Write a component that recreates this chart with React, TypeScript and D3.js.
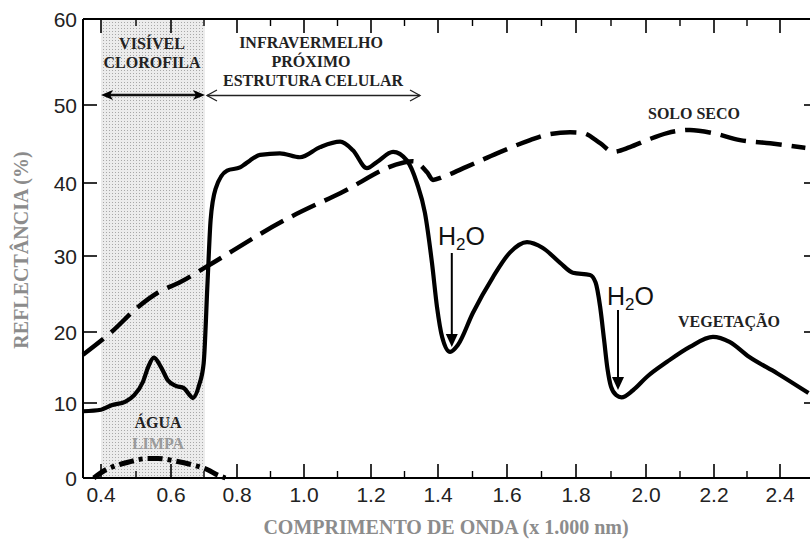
import React from 'react';
import * as d3 from 'd3';

// Reflectance spectra (wavelength in µm x 1000 nm, reflectance %)
const vegetacao: [number, number][] = [
  [0.35, 8.9], [0.40, 9.1], [0.43, 9.7], [0.47, 10.2], [0.495, 11.1], [0.52, 13.0],
  [0.535, 15.1], [0.551, 16.4], [0.571, 15.1], [0.591, 13.2], [0.615, 12.4], [0.639, 12.1],
  [0.655, 11.2], [0.666, 10.7], [0.685, 12.5], [0.699, 15.6], [0.711, 26.8], [0.72, 34.9],
  [0.735, 39.2], [0.77, 41.6], [0.809, 42.0], [0.82, 42.3], [0.839, 42.9], [0.869, 43.6],
  [0.928, 43.8], [0.988, 43.3], [1.048, 44.6], [1.108, 45.3], [1.146, 44.2], [1.188, 41.9],
  [1.218, 42.7], [1.266, 44.0], [1.307, 42.9], [1.337, 40.0], [1.361, 35.9], [1.382, 29.1],
  [1.397, 23.3], [1.412, 19.3], [1.435, 17.2], [1.458, 18.2], [1.501, 22.5], [1.559, 27.2],
  [1.609, 30.5], [1.658, 31.9], [1.704, 31.1], [1.754, 29.1], [1.791, 27.8], [1.84, 27.5],
  [1.856, 26.5], [1.869, 23.3], [1.88, 19.0], [1.89, 14.8], [1.90, 12.3], [1.915, 11.1],
  [1.93, 10.8], [1.963, 11.8], [2.003, 13.7], [2.062, 15.8], [2.129, 17.9], [2.197, 19.3],
  [2.247, 18.6], [2.306, 16.5], [2.391, 14.2], [2.49, 11.4],
];

const soloSeco: [number, number][] = [
  [0.35, 16.8], [0.43, 20.0], [0.506, 23.3], [0.563, 25.2], [0.63, 26.6], [0.70, 28.4],
  [0.958, 35.3], [1.108, 38.6], [1.295, 42.6], [1.325, 42.8], [1.367, 41.4], [1.385, 40.4],
  [1.415, 40.8], [1.484, 42.1], [1.571, 43.8], [1.667, 45.5], [1.716, 46.2], [1.783, 46.5],
  [1.82, 46.4], [1.869, 45.1], [1.906, 44.0], [1.954, 44.6], [2.003, 45.5], [2.062, 46.4],
  [2.129, 46.8], [2.197, 46.4], [2.279, 45.5], [2.37, 45.1], [2.48, 44.5],
];

const aguaLimpa: [number, number][] = [
  [0.38, 0], [0.41, 1.0], [0.44, 1.6], [0.477, 2.1], [0.534, 2.6], [0.563, 2.6],
  [0.609, 2.3], [0.669, 1.7], [0.711, 1.1], [0.741, 0.4], [0.765, 0],
];

const xMajorTicks = [0.4, 0.6, 0.8, 1.0, 1.2, 1.4, 1.6, 1.8, 2.0, 2.2, 2.4];
const xMinorTicks = [0.5, 0.7, 0.9, 1.1, 1.3, 1.5, 1.7, 1.9, 2.1, 2.3];
const xTickLabels = ['0.4', '0.6', '0.8', '1.0', '1.2', '1.4', '1.6', '1.8', '2.0', '2.2', '2.4'];
const yTicks = [0, 10, 20, 30, 40, 50, 60];
const yTickLabels = ['0', '10', '20', '30', '40', '50', '60'];

const W = 810;
const H = 545;

export default function App() {
  // scales calibrated to the (slightly non-uniform) printed axes
  const x = d3
    .scaleLinear()
    .domain([0.35, 0.4, 0.6, 0.8, 1.0, 1.2, 1.4, 1.6, 1.8, 2.0, 2.2, 2.4, 2.52])
    .range([83, 101, 171, 237, 304, 371, 438, 507, 576, 646, 714, 780, 818]);
  const y = d3
    .scaleLinear()
    .domain([0, 10, 20, 30, 40, 50, 60])
    .range([478, 403, 332, 256, 183, 105, 19]);

  const line = d3
    .line<[number, number]>()
    .x((d) => x(d[0]))
    .y((d) => y(d[1]))
    .curve(d3.curveMonotoneX);

  const left = x(0.35);
  const right = x(2.52);
  const top = y(60);
  const bottom = y(0);
  const serif = '"Liberation Serif", "Times New Roman", serif';
  const sans = '"Liberation Sans", Arial, sans-serif';

  const arrowDown = (cx: number, y0: number, y1: number) => (
    <g>
      <line x1={cx} x2={cx} y1={y0} y2={y1 - 10} stroke="#000" strokeWidth={2} />
      <path d={`M${cx - 6},${y1 - 13} L${cx + 6},${y1 - 13} L${cx},${y1} Z`} fill="#000" />
    </g>
  );

  const shadeX0 = x(0.4);
  const shadeX1 = x(0.703);
  const arrowY = 95;

  return (
    <svg
      width={W}
      height={H}
      style={{ position: 'absolute', left: 0, top: 0, background: '#fff' }}
    >
      <defs>
        <pattern id="dots" width="3" height="3" patternUnits="userSpaceOnUse">
          <rect width="3" height="3" fill="#ececec" />
          <rect x="1" y="1" width="1" height="1" fill="#a8a8a8" />
        </pattern>
      </defs>
      <rect width={W} height={H} fill="#fff" />

      {/* shaded visible band */}
      <rect x={shadeX0} y={top} width={shadeX1 - shadeX0} height={bottom - top} fill="url(#dots)" />

      {/* frame */}
      <line x1={left} x2={left} y1={top} y2={bottom} stroke="#000" strokeWidth={2} />
      <line x1={left} x2={right} y1={bottom} y2={bottom} stroke="#000" strokeWidth={2} />
      <line x1={left} x2={right} y1={top} y2={top} stroke="#000" strokeWidth={2} />
      <line x1={right} x2={right} y1={top} y2={bottom} stroke="#000" strokeWidth={2} />

      {/* x ticks, bottom and top */}
      {xMajorTicks.map((t) => (
        <g key={'M' + t}>
          <line x1={x(t)} x2={x(t)} y1={bottom} y2={bottom - 14} stroke="#000" strokeWidth={1.6} />
          <line x1={x(t)} x2={x(t)} y1={top} y2={top + 14} stroke="#000" strokeWidth={1.6} />
        </g>
      ))}
      {xMinorTicks.map((t) => (
        <g key={'m' + t}>
          <line x1={x(t)} x2={x(t)} y1={bottom} y2={bottom - 7} stroke="#000" strokeWidth={1.4} />
          <line x1={x(t)} x2={x(t)} y1={top} y2={top + 7} stroke="#000" strokeWidth={1.4} />
        </g>
      ))}
      {xMajorTicks.map((t, i) => (
        <text key={'l' + t} x={x(t)} y={502} textAnchor="middle" fontFamily={sans} fontSize={21} fill="#222">
          {xTickLabels[i]}
        </text>
      ))}

      {/* y ticks, left and right */}
      {yTicks.map((t, i) => (
        <g key={'y' + t}>
          {t > 0 && t < 60 && (
            <>
              <line x1={left} x2={left + 14} y1={y(t)} y2={y(t)} stroke="#000" strokeWidth={1.6} />
              <line x1={right} x2={right - 14} y1={y(t)} y2={y(t)} stroke="#000" strokeWidth={1.6} />
            </>
          )}
          <text x={77} y={y(t)} dy="0.36em" textAnchor="end" fontFamily={sans} fontSize={21} fill="#222">
            {yTickLabels[i]}
          </text>
        </g>
      ))}

      {/* curves */}
      <path d={line(aguaLimpa) || ''} fill="none" stroke="#000" strokeWidth={5} strokeDasharray="15 5 4 5" />
      <path d={line(soloSeco) || ''} fill="none" stroke="#000" strokeWidth={4.5} strokeDasharray="26 10" />
      <path d={line(vegetacao) || ''} fill="none" stroke="#000" strokeWidth={4.2} strokeLinejoin="round" />

      {/* region arrows */}
      <line x1={shadeX0 + 6} x2={shadeX1 - 6} y1={arrowY} y2={arrowY} stroke="#111" strokeWidth={2.6} />
      <path d={`M${shadeX0},${arrowY} L${shadeX0 + 12},${arrowY - 5} L${shadeX0 + 9},${arrowY} L${shadeX0 + 12},${arrowY + 5} Z`} fill="#000" />
      <path d={`M${shadeX1},${arrowY} L${shadeX1 - 12},${arrowY - 5} L${shadeX1 - 9},${arrowY} L${shadeX1 - 12},${arrowY + 5} Z`} fill="#000" />
      <line x1={shadeX1 + 2} x2={420} y1={arrowY + 0.5} y2={arrowY + 0.5} stroke="#222" strokeWidth={1.3} />
      <path d={`M${shadeX1 + 12},${arrowY - 5} L${shadeX1 + 2},${arrowY + 0.5} L${shadeX1 + 12},${arrowY + 6}`} fill="none" stroke="#222" strokeWidth={1.3} />
      <path d={`M410,${arrowY - 5} L420,${arrowY + 0.5} L410,${arrowY + 6}`} fill="none" stroke="#222" strokeWidth={1.3} />

      {/* region labels */}
      <g fontFamily={serif} fontWeight="bold" fontSize={16} fill="#222" textAnchor="middle">
        <text x={152} y={49}>VISÍVEL</text>
        <text x={152} y={68}>CLOROFILA</text>
        <text x={311} y={48}>INFRAVERMELHO</text>
        <text x={311} y={67}>PRÓXIMO</text>
        <text x={313} y={86}>ESTRUTURA CELULAR</text>
        <text x={694} y={119}>SOLO SECO</text>
        <text x={729} y={327}>VEGETAÇÃO</text>
        <text x={158} y={428}>ÁGUA</text>
        <text x={158} y={449} fill="#9a9a9a">LIMPA</text>
      </g>

      {/* H2O annotations */}
      <text x={438} y={245} fontFamily={sans} fontSize={25} fill="#111">
        H<tspan fontSize={17} dy={5}>2</tspan><tspan dy={-5}>O</tspan>
      </text>
      {arrowDown(x(1.44), 253, 347)}
      <text x={607} y={305} fontFamily={sans} fontSize={25} fill="#111">
        H<tspan fontSize={17} dy={5}>2</tspan><tspan dy={-5}>O</tspan>
      </text>
      {arrowDown(x(1.92), 310, 390)}

      {/* axis titles */}
      <text
        transform={`translate(28, ${250}) rotate(-90)`}
        textAnchor="middle"
        fontFamily={serif}
        fontWeight="bold"
        fontSize={20}
        fill="#8c8c8c"
      >
        REFLECTÂNCIA (%)
      </text>
      <text x={446} y={534} textAnchor="middle" fontFamily={serif} fontWeight="bold" fontSize={20} fill="#8c8c8c">
        COMPRIMENTO DE ONDA (x 1.000 nm)
      </text>
    </svg>
  );
}
